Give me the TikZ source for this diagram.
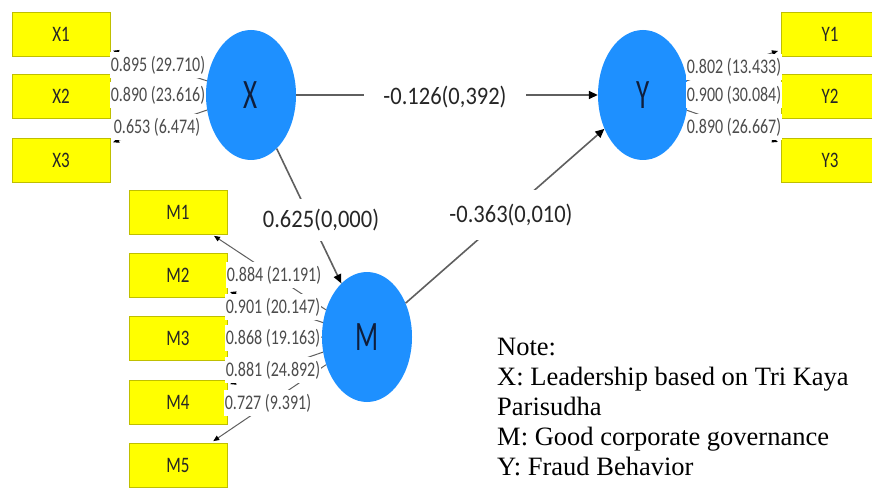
\documentclass[tikz,border=0pt]{standalone}
\usepackage{fontspec}
\usepackage{graphicx}
\setmainfont{Liberation Serif}
\newfontfamily\diag{Carlito}
\newcommand\tallt[2][1.3]{\scalebox{1}[#1]{#2}}
\usetikzlibrary{shapes.geometric,arrows.meta}
\definecolor{ind}{RGB}{255,255,0}
\definecolor{lat}{RGB}{30,144,255}
\definecolor{ln}{RGB}{95,95,95}
\definecolor{latxt}{RGB}{15,30,60}
\tikzset{
 indbox/.style={draw=ind!75!black, line width=0.4pt, fill=ind, minimum width=98pt, minimum height=44pt, inner sep=0pt, text=black!85, font=\diag\fontsize{17}{17}\selectfont},
 latent/.style={ellipse, fill=lat, minimum width=90pt, minimum height=130pt, inner sep=0pt, text=latxt, font=\diag\fontsize{27}{27}\selectfont},
 strpath/.style={draw=ln, line width=1.6pt, -{Triangle[color=black,length=9pt,width=8pt]}},
 measpath/.style={draw=ln, line width=1pt, -{Triangle[color=black,length=6pt,width=5pt]}, shorten >=3pt},
 loadlab/.style={fill=white, inner xsep=1pt, inner ysep=4pt, text=black!70, font=\diag\fontsize{16}{16}\selectfont},
 pathlab/.style={fill=white, inner xsep=4pt, inner ysep=2pt, text=black!85, font=\diag\fontsize{22.5}{22.5}\selectfont},
 notetext/.style={anchor=north west, align=left, inner sep=0pt, font=\fontsize{26.5}{30}\selectfont}
}
\begin{document}
\begin{tikzpicture}[x=1pt,y=-1pt]
\useasboundingbox[fill=white] (0,0) rectangle (872,497);
% indicators
\node[indbox] (X1) at (61,34) {\tallt{X1}};
\node[indbox] (X2) at (61,96) {\tallt{X2}};
\node[indbox] (X3) at (61,160) {\tallt{X3}};
\node[indbox] (Y1) at (830,34) {\tallt{Y1}};
\node[indbox] (Y2) at (830,96) {\tallt{Y2}};
\node[indbox] (Y3) at (830,160) {\tallt{Y3}};
\node[indbox] (M1) at (178,212) {\tallt{M1}};
\node[indbox] (M2) at (178,275) {\tallt{M2}};
\node[indbox] (M3) at (178,338) {\tallt{M3}};
\node[indbox] (M4) at (178,402) {\tallt{M4}};
\node[indbox] (M5) at (178,465) {\tallt{M5}};
% latent
\node[latent] (X) at (251,95) {\tallt[1.55]{X}};
\node[latent] (Y) at (643,95) {\tallt[1.55]{Y}};
\node[latent] (M) at (367,337) {\tallt[1.55]{M}};
% measurement arrows
\foreach \i in {1,2,3} {\draw[measpath] (X) -- (X\i); \draw[measpath] (Y) -- (Y\i);}
\foreach \i in {1,...,5} {\draw[measpath] (M) -- (M\i);}
% structural arrows
\draw[strpath] (X) -- (Y);
\draw[strpath] (X) -- (M);
\draw[strpath] (M) -- (Y);
% loadings
\node[loadlab] (lx1) at (158,65) {\tallt{0.895 (29.710)}};
\node[loadlab] (lx2) at (158,95) {\tallt{0.890 (23.616)}};
\node[loadlab] (lx3) at (157,127) {\tallt{0.653 (6.474)}};
\node[loadlab] (ly1) at (734,67) {\tallt{0.802 (13.433)}};
\node[loadlab] (ly2) at (734,95) {\tallt{0.900 (30.084)}};
\node[loadlab] (ly3) at (734,127) {\tallt{0.890 (26.667)}};
\node[loadlab] (lm1) at (274,275) {\tallt{0.884 (21.191)}};
\node[loadlab] (lm2) at (273,307) {\tallt{0.901 (20.147)}};
\node[loadlab] (lm3) at (273,338) {\tallt{0.868 (19.163)}};
\node[loadlab] (lm4) at (273,370) {\tallt{0.881 (24.892)}};
\node[loadlab] (lm5) at (268,403) {\tallt{0.727 (9.391)}};
% path coefficients
\node[pathlab, inner xsep=19pt] (pxy) at (445,97) {\tallt[1.12]{-0.126(0,392)}};
\node[pathlab, inner ysep=10pt] (pxm) at (321,220) {\tallt[1.12]{0.625(0,000)}};
\node[pathlab, inner ysep=14pt] (pmy) at (511,215) {\tallt[1.12]{-0.363(0,010)}};
% note
\node[notetext] (note) at (497,338) {Note:\\X: Leadership based on Tri Kaya\\Parisudha\\M: Good corporate governance\\Y: Fraud Behavior};
\end{tikzpicture}
\end{document}
